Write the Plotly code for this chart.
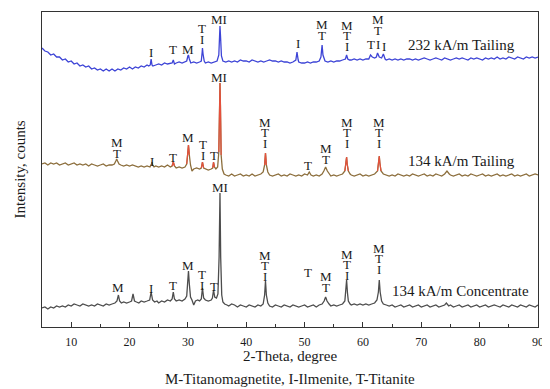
import plotly.graph_objects as go

# ---------------- data (2-theta, intensity in arbitrary units) ----------------
tailing_232 = [
    (5.0, 279), (5.5, 276), (6.0, 275), (6.5, 272), (7.0, 273), (7.5, 270), (8.0, 270), (8.5, 267),
    (9.0, 268), (9.5, 265), (10.0, 266), (10.5, 263), (11.0, 264), (11.5, 261), (12.0, 262), (12.5, 260),
    (13.0, 261), (13.5, 258), (14.0, 259), (14.5, 257), (15.0, 258), (15.5, 256), (16.0, 258), (16.5, 256),
    (17.0, 258), (17.5, 256), (18.0, 258), (18.5, 257), (19.0, 259), (19.5, 258), (20.0, 260), (20.5, 258),
    (21.0, 260), (21.5, 259), (22.0, 261), (22.5, 260), (23.0, 262), (23.3, 261), (23.55, 262), (23.7, 268),
    (23.85, 262), (24.0, 261), (24.5, 262), (25.0, 263), (25.5, 262), (26.0, 264), (26.5, 263), (27.0, 264),
    (27.3, 264), (27.5, 267), (27.7, 263), (28.0, 264), (28.5, 265), (29.0, 264), (29.5, 265), (29.8, 266),
    (30.0, 271), (30.1, 272), (30.25, 268), (30.5, 264), (31.0, 265), (31.5, 264), (32.0, 265), (32.3, 266),
    (32.45, 275), (32.5, 279), (32.6, 273), (32.8, 266), (33.0, 264), (33.5, 265), (34.0, 264), (34.5, 265),
    (35.0, 266), (35.3, 272), (35.45, 295), (35.5, 301), (35.6, 290), (35.75, 271), (36.0, 266), (36.5, 265),
    (37.0, 266), (37.5, 265), (38.0, 266), (38.5, 265), (39.0, 267), (39.5, 266), (40.0, 266), (40.5, 265),
    (41.0, 267), (41.5, 266), (42.0, 265), (42.5, 266), (43.0, 265), (43.5, 266), (44.0, 267), (44.5, 266),
    (45.0, 266), (45.5, 265), (46.0, 266), (46.5, 265), (47.0, 265), (47.5, 264), (48.0, 265), (48.5, 267),
    (48.7, 275), (48.9, 267), (49.0, 265), (49.5, 264), (50.0, 264), (50.5, 265), (51.0, 264), (51.5, 265),
    (52.0, 265), (52.5, 266), (52.8, 270), (53.0, 282), (53.15, 272), (53.5, 266), (54.0, 265), (54.5, 266),
    (55.0, 265), (55.5, 266), (56.0, 266), (56.5, 267), (57.0, 268), (57.2, 272), (57.4, 268), (57.7, 267),
    (58.0, 267), (58.5, 268), (59.0, 267), (59.5, 268), (60.0, 267), (60.5, 268), (61.0, 268), (61.3, 272),
    (61.6, 270), (62.0, 269), (62.3, 270), (62.5, 274), (62.8, 270), (63.2, 269), (63.5, 273), (63.8, 268),
    (64.0, 267), (64.5, 268), (65.0, 267), (65.5, 268), (66.0, 267), (66.5, 268), (67.0, 267), (67.5, 268),
    (68.0, 268), (68.5, 267), (69.0, 268), (69.5, 267), (70.0, 268), (70.5, 269), (71.0, 268), (71.5, 267),
    (72.0, 268), (72.5, 269), (73.0, 268), (73.5, 267), (74.0, 269), (74.5, 268), (75.0, 267), (75.5, 268),
    (76.0, 269), (76.5, 268), (77.0, 269), (77.5, 268), (78.0, 267), (78.5, 269), (79.0, 268), (79.5, 269),
    (80.0, 268), (80.5, 267), (81.0, 269), (81.5, 268), (82.0, 269), (82.5, 268), (83.0, 270), (83.5, 268),
    (84.0, 269), (84.5, 268), (85.0, 270), (85.5, 269), (86.0, 268), (86.5, 270), (87.0, 269), (87.5, 268),
    (88.0, 270), (88.5, 269), (89.0, 270), (89.5, 269), (90.0, 270),
]

tailing_134 = [
    (5.0, 163), (5.5, 164), (6.0, 162), (6.5, 164), (7.0, 163), (7.5, 164), (8.0, 162), (8.5, 163),
    (9.0, 164), (9.5, 162), (10.0, 163), (10.5, 164), (11.0, 162), (11.5, 163), (12.0, 162), (12.5, 163),
    (13.0, 161), (13.5, 163), (14.0, 162), (14.5, 161), (15.0, 162), (15.5, 163), (16.0, 161), (16.5, 162),
    (17.0, 162), (17.4, 163), (17.65, 166), (17.8, 168), (17.95, 166), (18.2, 163), (18.5, 162), (19.0, 161),
    (19.5, 162), (20.0, 161), (20.5, 162), (21.0, 161), (21.5, 160), (22.0, 161), (22.5, 160), (23.0, 161),
    (23.5, 160), (23.75, 163), (23.85, 165), (23.95, 162), (24.2, 160), (24.5, 161), (25.0, 160), (25.5, 161),
    (26.0, 160), (26.5, 162), (27.0, 160), (27.3, 161), (27.5, 165), (27.7, 161), (28.0, 159), (28.5, 160),
    (29.0, 159), (29.5, 160), (29.8, 163), (29.95, 172), (30.1, 182), (30.25, 172), (30.45, 162), (30.7, 156),
    (31.0, 158), (31.5, 159), (32.0, 158), (32.3, 159), (32.5, 165), (32.7, 159), (33.0, 158), (33.5, 157),
    (34.0, 158), (34.25, 159), (34.4, 165), (34.55, 160), (34.8, 158), (35.1, 160), (35.3, 175), (35.42, 225),
    (35.5, 244), (35.58, 222), (35.7, 172), (35.9, 158), (36.2, 153), (36.5, 152), (37.0, 151), (37.5, 153),
    (38.0, 151), (38.5, 152), (39.0, 153), (39.5, 151), (40.0, 152), (40.5, 151), (41.0, 153), (41.5, 151),
    (42.0, 152), (42.5, 153), (42.9, 155), (43.15, 162), (43.3, 174), (43.45, 162), (43.7, 155), (44.0, 152),
    (44.5, 151), (45.0, 152), (45.5, 153), (46.0, 151), (46.5, 152), (47.0, 151), (47.5, 153), (48.0, 152),
    (48.5, 151), (49.0, 152), (49.5, 151), (50.0, 153), (50.5, 152), (50.8, 155), (51.1, 152), (51.5, 151),
    (52.0, 152), (52.5, 151), (53.0, 153), (53.3, 156), (53.6, 160), (53.9, 156), (54.2, 153), (54.5, 151),
    (55.0, 152), (55.5, 151), (56.0, 152), (56.5, 153), (56.9, 156), (57.1, 163), (57.2, 170), (57.3, 163),
    (57.5, 156), (57.8, 153), (58.0, 152), (58.5, 151), (59.0, 152), (59.5, 153), (60.0, 151), (60.5, 152),
    (61.0, 151), (61.5, 152), (62.0, 153), (62.5, 156), (62.7, 163), (62.8, 171), (62.9, 164), (63.1, 156),
    (63.5, 153), (64.0, 152), (64.5, 151), (65.0, 152), (65.5, 151), (66.0, 153), (66.5, 152), (67.0, 151),
    (67.5, 152), (68.0, 151), (68.5, 153), (69.0, 152), (69.5, 151), (70.0, 152), (70.5, 153), (71.0, 151),
    (71.5, 152), (72.0, 151), (72.5, 153), (73.0, 152), (73.5, 151), (74.0, 153), (74.4, 156), (74.8, 153),
    (75.0, 152), (75.5, 151), (76.0, 152), (76.5, 153), (77.0, 151), (77.5, 152), (78.0, 151), (78.5, 153),
    (79.0, 152), (79.5, 151), (80.0, 152), (80.5, 153), (81.0, 151), (81.5, 152), (82.0, 151), (82.5, 152),
    (83.0, 153), (83.5, 151), (84.0, 152), (84.5, 151), (85.0, 152), (85.5, 153), (86.0, 151), (86.5, 152),
    (87.0, 151), (87.5, 152), (88.0, 153), (88.5, 151), (89.0, 152), (89.5, 153), (90.0, 152),
]

concentrate_134 = [
    (5.0, 19), (5.5, 20), (6.0, 18), (6.5, 20), (7.0, 19), (7.5, 21), (8.0, 20), (8.5, 21),
    (9.0, 20), (9.5, 22), (10.0, 21), (10.5, 23), (11.0, 22), (11.5, 21), (12.0, 23), (12.5, 22),
    (13.0, 21), (13.5, 22), (14.0, 21), (14.5, 23), (15.0, 22), (15.5, 21), (16.0, 23), (16.5, 22),
    (17.0, 23), (17.5, 24), (17.85, 26), (18.1, 32), (18.3, 26), (18.6, 24), (19.0, 25), (19.5, 24),
    (20.0, 25), (20.35, 26), (20.6, 33), (20.85, 26), (21.2, 25), (21.6, 24), (22.0, 26), (22.5, 25),
    (23.0, 26), (23.45, 27), (23.7, 35), (23.95, 27), (24.3, 25), (24.7, 26), (25.0, 24), (25.5, 26),
    (26.0, 25), (26.5, 27), (27.0, 26), (27.3, 28), (27.5, 35), (27.7, 28), (28.0, 26), (28.5, 27),
    (29.0, 26), (29.5, 28), (29.8, 31), (29.95, 43), (30.1, 56), (30.25, 43), (30.45, 30), (30.7, 27),
    (31.0, 22), (31.3, 26), (31.7, 27), (32.0, 26), (32.3, 28), (32.5, 39), (32.7, 29), (33.0, 27),
    (33.5, 26), (34.0, 27), (34.2, 29), (34.4, 37), (34.6, 30), (34.9, 29), (35.15, 33), (35.35, 70),
    (35.5, 134), (35.62, 70), (35.8, 32), (36.0, 25), (36.3, 23), (36.7, 22), (37.0, 21), (37.5, 23),
    (38.0, 22), (38.5, 20), (39.0, 22), (39.5, 21), (40.0, 20), (40.5, 22), (41.0, 21), (41.5, 20),
    (42.0, 22), (42.5, 21), (42.9, 23), (43.15, 32), (43.3, 46), (43.45, 32), (43.7, 24), (44.0, 21),
    (44.5, 20), (45.0, 22), (45.5, 21), (46.0, 20), (46.5, 22), (47.0, 21), (47.5, 20), (48.0, 22),
    (48.5, 21), (49.0, 20), (49.5, 21), (50.0, 22), (50.5, 20), (51.0, 21), (51.5, 22), (52.0, 20),
    (52.5, 22), (53.0, 23), (53.35, 26), (53.6, 30), (53.85, 26), (54.2, 23), (54.5, 21), (55.0, 22),
    (55.5, 21), (56.0, 22), (56.5, 23), (56.9, 26), (57.05, 34), (57.2, 47), (57.35, 34), (57.5, 26),
    (57.8, 23), (58.0, 22), (58.5, 23), (59.0, 22), (59.5, 23), (60.0, 22), (60.5, 23), (61.0, 22),
    (61.5, 23), (62.0, 24), (62.4, 27), (62.65, 35), (62.8, 47), (62.95, 35), (63.2, 26), (63.5, 23),
    (64.0, 22), (64.5, 21), (65.0, 22), (65.5, 20), (66.0, 21), (66.5, 22), (67.0, 20), (67.5, 21),
    (68.0, 22), (68.5, 20), (69.0, 21), (69.5, 22), (70.0, 20), (70.5, 21), (71.0, 22), (71.5, 20),
    (72.0, 21), (72.5, 22), (73.0, 20), (73.5, 21), (74.0, 22), (74.3, 24), (74.7, 21), (75.0, 22),
    (75.5, 20), (76.0, 21), (76.5, 22), (77.0, 20), (77.5, 21), (78.0, 22), (78.5, 20), (79.0, 21),
    (79.5, 22), (80.0, 20), (80.5, 21), (81.0, 22), (81.5, 20), (82.0, 21), (82.5, 22), (83.0, 21),
    (83.5, 20), (84.0, 22), (84.5, 21), (85.0, 20), (85.5, 22), (86.0, 21), (86.5, 20), (87.0, 22),
    (87.5, 21), (88.0, 20), (88.5, 22), (89.0, 21), (89.5, 20), (90.0, 22),
]

# phase labels: (2-theta, intensity of lowest letter, letters top->bottom separated by "/")
labels_232 = [
    (23.7, 275, "I"), (27.4, 278, "T"), (30.1, 278, "M"), (32.5, 288, "T/I"), (35.4, 308, "MI"),
    (48.8, 284, "I"), (53.0, 292, "M/T"), (57.3, 281, "M/T/I"), (61.3, 283, "T"),
    (62.5, 283, "I"), (62.5, 297, "M/T"), (63.6, 281, "I"),
]
labels_134t = [
    (17.9, 174, "M/T"), (23.9, 166, "I"), (27.4, 170, "T"), (30.1, 190, "M"), (32.6, 172, "T/I"),
    (34.5, 172, "T"), (35.4, 250, "MI"), (43.3, 184, "M/T/I"), (50.6, 162, "T"), (53.6, 168, "M/T"),
    (57.2, 184, "M/T/I"), (62.8, 184, "M/T/I"),
]
labels_134c = [
    (18.1, 40, "M"), (23.7, 39, "I"), (27.5, 42, "T"), (30.1, 62, "M"), (32.5, 42, "T/I"),
    (34.4, 41, "T"), (35.5, 140, "MI"), (43.3, 51, "M/T/I"), (50.6, 55, "T"), (53.6, 40, "M/T"),
    (57.2, 52, "M/T/I"), (62.8, 58, "M/T/I"),
]
sample_names = ["232 kA/m Tailing", "134 kA/m Tailing", "134 kA/m Concentrate"]
sample_label_pos = [(76.9, 282), (76.9, 166), (76.8, 36)]
red_peaks_134t = [27.5, 30.1, 32.5, 34.4, 35.5, 43.3, 57.2, 62.8]

x_ticks = [10, 20, 30, 40, 50, 60, 70, 80, 90]

# ---------------- figure ----------------
SERIF = "Liberation Serif, Times New Roman, serif"
fig = go.Figure()

def unpack(pts):
    return [p[0] for p in pts], [p[1] for p in pts]

x1, y1 = unpack(tailing_232)
x2, y2 = unpack(tailing_134)
x3, y3 = unpack(concentrate_134)

fig.add_trace(go.Scatter(x=x3, y=y3, mode="lines", line=dict(color="#4d4d4d", width=1.3),
                         name=sample_names[2], showlegend=False))
fig.add_trace(go.Scatter(x=x2, y=y2, mode="lines", line=dict(color="#8c6e3c", width=1.3),
                         name=sample_names[1], showlegend=False))
# red tips of the 134 kA/m tailing peaks
rx, ry = [], []
for c in red_peaks_134t:
    for xx, yy in tailing_134:
        if abs(xx - c) <= 0.32:
            rx.append(xx)
            ry.append(yy)
    rx.append(None)
    ry.append(None)
fig.add_trace(go.Scatter(x=rx, y=ry, mode="lines", line=dict(color="#e5503c", width=1.2),
                         showlegend=False, connectgaps=False))
fig.add_trace(go.Scatter(x=x1, y=y1, mode="lines", line=dict(color="#3d44d6", width=1.3),
                         name=sample_names[0], showlegend=False))

annotations = []
for lab_list in (labels_232, labels_134t, labels_134c):
    for (px, py, txt) in lab_list:
        lines = txt.split("/")
        for i, ch in enumerate(reversed(lines)):
            annotations.append(dict(x=px, y=py, xref="x", yref="y", text=ch, showarrow=False,
                                    yshift=10.5 * i, xanchor="center", yanchor="middle",
                                    font=dict(family=SERIF, size=13, color="#1a1a1a")))
for name, (px, py) in zip(sample_names, sample_label_pos):
    annotations.append(dict(x=px, y=py, xref="x", yref="y", text=name, showarrow=False,
                            xanchor="center", yanchor="middle",
                            font=dict(family=SERIF, size=15, color="#1a1a1a")))
annotations.append(dict(x=0.5, y=0, xref="paper", yref="paper", text="2-Theta, degree",
                        showarrow=False, yshift=-29, xanchor="center", yanchor="middle",
                        font=dict(family=SERIF, size=15, color="#1a1a1a")))
annotations.append(dict(x=0.5, y=0, xref="paper", yref="paper",
                        text="M-Titanomagnetite, I-Ilmenite, T-Titanite",
                        showarrow=False, yshift=-52, xanchor="center", yanchor="middle",
                        font=dict(family=SERIF, size=15, color="#1a1a1a")))
annotations.append(dict(x=0, y=0.5, xref="paper", yref="paper", text="Intensity, counts",
                        showarrow=False, xshift=-23, textangle=-90, xanchor="center", yanchor="middle",
                        font=dict(family=SERIF, size=15, color="#1a1a1a")))

# the page body adds an 8px margin, so the figure is sized to fit the window
fig.update_layout(
    width=542, height=381,
    margin=dict(l=34, r=12, t=4, b=62),
    paper_bgcolor="white", plot_bgcolor="white",
    showlegend=False,
    annotations=annotations,
    xaxis=dict(range=[5, 90], tickvals=x_ticks, ticktext=[str(t) for t in x_ticks],
               ticks="inside", ticklen=5, tickwidth=1, tickcolor="#333",
               minor=dict(tickvals=[15, 25, 35, 45, 55, 65, 75, 85], ticks="inside", ticklen=3,
                          tickcolor="#333", tickwidth=1),
               showline=True, linecolor="#333", linewidth=1, mirror=True,
               showgrid=False, zeroline=False, ticklabelstandoff=4,
               tickfont=dict(family=SERIF, size=12, color="#1a1a1a")),
    yaxis=dict(range=[0, 315], showticklabels=False, ticks="", showline=True,
               linecolor="#333", linewidth=1, mirror=True, showgrid=False, zeroline=False),
)

fig.write_html("out.html")
